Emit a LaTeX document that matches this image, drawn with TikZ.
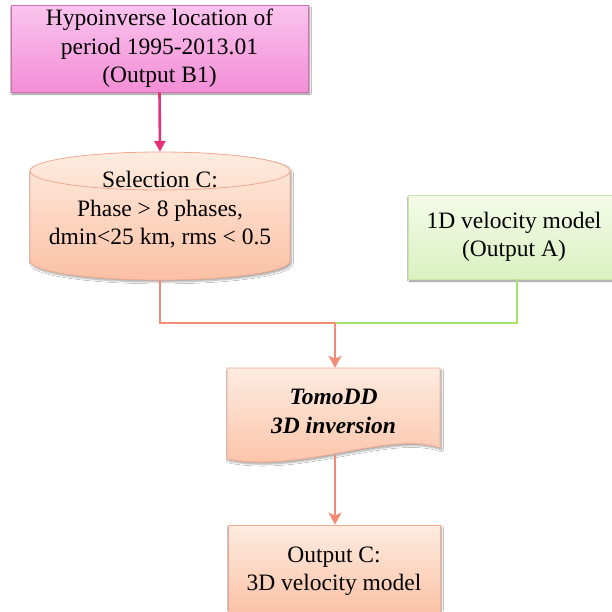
\documentclass[tikz,border=0pt]{standalone}
\usepackage{fontspec}
\setmainfont{Liberation Serif}
\usetikzlibrary{arrows.meta, shadows.blur}
\definecolor{pkTop}{RGB}{250,196,238}
\definecolor{pkBot}{RGB}{243,142,214}
\definecolor{pkLine}{RGB}{214,110,180}
\definecolor{pkArrow}{RGB}{232,48,118}
\definecolor{orTop}{RGB}{254,236,224}
\definecolor{orBot}{RGB}{251,192,164}
\definecolor{orLine}{RGB}{240,170,145}
\definecolor{orArrow}{RGB}{243,140,118}
\definecolor{grTop}{RGB}{244,251,232}
\definecolor{grBot}{RGB}{218,241,194}
\definecolor{grLine}{RGB}{200,230,170}
\definecolor{grArrow}{RGB}{168,226,110}
\tikzset{
  txt/.style={align=center, font=\fontsize{23.5}{28.5}\selectfont, inner sep=0pt},
  sbox/.style={txt, draw=pkLine, top color=pkTop, bottom color=pkBot, line width=0.8pt,
               blur shadow={shadow xshift=1.5pt, shadow yshift=-2pt, shadow blur steps=5, shadow opacity=45}},
  vbox/.style={txt, draw=grLine, top color=grTop, bottom color=grBot, line width=0.8pt,
               blur shadow={shadow xshift=1.5pt, shadow yshift=-2pt, shadow blur steps=5, shadow opacity=45}},
  obox/.style={txt, draw=orLine, top color=orTop, bottom color=orBot, line width=0.8pt,
               blur shadow={shadow xshift=1.5pt, shadow yshift=-2pt, shadow blur steps=5, shadow opacity=35}},
  oshape/.style={draw=orLine, top color=orTop, bottom color=orBot, line width=0.8pt,
               blur shadow={shadow xshift=1.5pt, shadow yshift=-2pt, shadow blur steps=5, shadow opacity=35}},
  pkflow/.style={-{Triangle[length=11pt, width=11pt]}, pkArrow, line width=2.6pt},
  orflow/.style={orArrow, line width=2.8pt},
  grflow/.style={grArrow, line width=2.8pt},
  orhead/.style={-{Stealth[length=12pt, width=13pt, inset=3pt]}, orArrow, line width=2.8pt},
}

\begin{document}
\begin{tikzpicture}[x=1pt, y=1pt]
  \useasboundingbox[fill=white] (0,0) rectangle (612,-611);
  \clip (0,0) rectangle (612,-611);

  % cylinder and document outlines, text nodes come on top
  \path[oshape] (30,-171) -- (30,-261) arc[start angle=180, end angle=360, x radius=130, y radius=19]
    -- (290,-171) arc[start angle=0, end angle=180, x radius=130, y radius=19] -- cycle;
  \draw[orLine, line width=0.8pt] (30,-171) arc[start angle=180, end angle=360, x radius=130, y radius=19];
  \path[oshape] (227,-368) -- (440,-368) -- (440,-448)
    .. controls (390,-430) and (300,-474) .. (227,-459) -- cycle;

  \node[sbox, minimum width=297pt, minimum height=87pt] (src) at (159.5,-48.5)
    {Hypoinverse location of\\period 1995-2013.01\\(Output B1)};
  \node[txt, minimum width=260pt, minimum height=128pt, text depth=16pt] (sel) at (160,-216)
    {Selection C:\\Phase > 8 phases,\\dmin<25 km, rms < 0.5};
  \node[vbox, minimum width=212pt, minimum height=84pt] (vel) at (514,-237)
    {1D velocity model\\(Output A)};
  \node[txt, minimum width=213pt, minimum height=87pt, font=\fontsize{23.5}{28.5}\selectfont\bfseries\itshape] (inv) at (333.5,-411.5)
    {TomoDD\\3D inversion};
  \node[obox, minimum width=212pt, minimum height=92pt] (out) at (334,-571)
    {Output C:\\3D velocity model};

  \coordinate (join) at (335,-323);
  \draw[pkflow] (src.south) -- (sel.north);
  \draw[grflow] ([xshift=3pt]vel.south) |- (join);
  \draw[orflow] (sel.south) |- (join);
  \draw[orhead] (join) -- (inv.north -| join);
  \draw[orhead] (inv.south -| join) -- (out.north -| join);
\end{tikzpicture}
\end{document}
